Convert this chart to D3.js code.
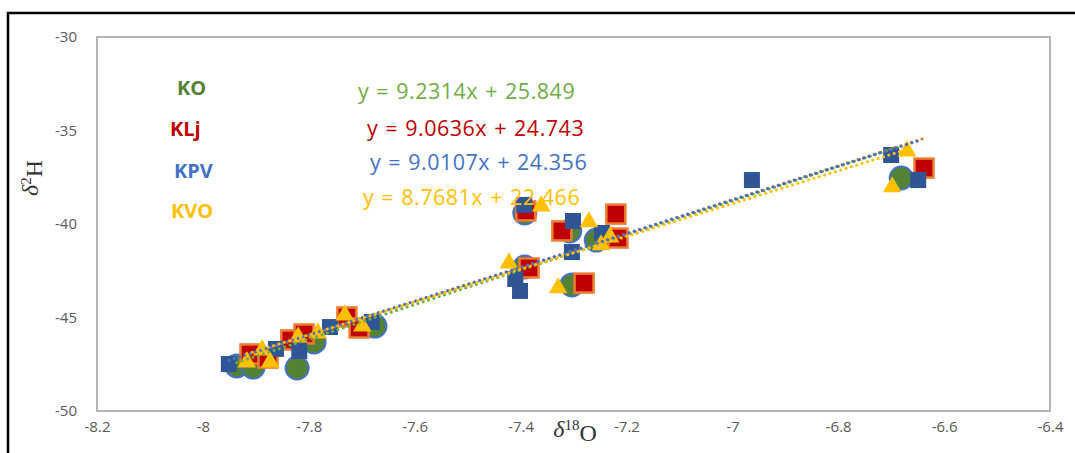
<!DOCTYPE html>
<html>
<head>
<meta charset="utf-8">
<script src="https://cdn.jsdelivr.net/npm/d3@7"></script>
<style>
  body { margin: 0; background: #fff; }
  svg { display: block; }
</style>
</head>
<body>
<div id="chart"></div>
<script>
// data
let seriesNames = ["KO", "KLj", "KPV", "KVO"];

let koX = [-7.936, -7.905, -7.822, -7.790, -7.675, -7.392, -7.392, -7.303, -7.307, -7.257, -6.681];
let koY = [-47.59, -47.65, -47.70, -46.31, -45.46, -39.41, -42.30, -43.26, -40.37, -40.86, -37.54];

let kljX = [-7.911, -7.877, -7.834, -7.809, -7.728, -7.705, -7.390, -7.384, -7.322, -7.280, -7.220, -7.216, -6.638];
let kljY = [-46.95, -47.17, -46.20, -45.88, -44.97, -45.56, -39.30, -42.35, -40.37, -43.16, -39.47, -40.75, -37.01];

let kpvX = [-7.951, -7.862, -7.818, -7.760, -7.681, -7.393, -7.410, -7.401, -7.301, -7.303, -7.246, -6.963, -6.700, -6.649];
let kpvY = [-47.49, -46.68, -46.79, -45.51, -45.24, -38.98, -42.94, -43.58, -39.84, -41.50, -40.48, -37.65, -36.31, -37.65];

let kvoX = [-7.917, -7.888, -7.873, -7.820, -7.783, -7.732, -7.699, -7.361, -7.422, -7.329, -7.271, -7.231, -7.248, -6.670, -6.698];
let kvoY = [-47.38, -46.74, -47.38, -46.04, -45.83, -44.87, -45.46, -39.04, -42.09, -43.42, -39.89, -40.70, -41.12, -36.10, -38.02];

// trendline equations shown on the chart
let slopes = [9.2314, 9.0636, 9.0107, 8.7681];
let intercepts = [25.849, 24.743, 24.356, 22.466];
let equations = ["y = 9.2314x + 25.849", "y = 9.0636x + 24.743", "y = 9.0107x + 24.356", "y = 8.7681x + 22.466"];

let xTicks = [-8.2, -8, -7.8, -7.6, -7.4, -7.2, -7, -6.8, -6.6, -6.4];
let yTicks = [-50, -45, -40, -35, -30];

let width = 1075, height = 453;
let margin = ({top: 37, right: 25, bottom: 42, left: 97});

let pointColors = ["#548235", "#c00000", "#2f5597", "#ffc000"];
let lineColors = ["#70ad47", "#ed7d31", "#4472c4", "#ffc000"];
let labelColors = ["#548235", "#c00000", "#4472c4", "#ffc000"];
let eqColors = ["#70ad47", "#c00000", "#4472c4", "#ffc000"];

let series = [
  {name: seriesNames[0], xs: koX, ys: koY},
  {name: seriesNames[1], xs: kljX, ys: kljY},
  {name: seriesNames[2], xs: kpvX, ys: kpvY},
  {name: seriesNames[3], xs: kvoX, ys: kvoY}
].map((s, i) => ({...s, i, pts: s.xs.map((x, j) => ({x, y: s.ys[j]}))}));

let x = d3.scaleLinear().domain([-8.2, -6.4]).range([margin.left, width - margin.right]);
let y = d3.scaleLinear().domain([-50, -30]).range([height - margin.bottom, margin.top]);

let svg = d3.select("#chart").append("svg")
  .attr("width", width).attr("height", height)
  .attr("viewBox", [0, 0, width, height]);

// outer frame
svg.append("rect")
  .attr("x", 8).attr("y", 13).attr("width", width + 20).attr("height", height + 20)
  .attr("fill", "none").attr("stroke", "#000").attr("stroke-width", 2.5);

// plot area border
svg.append("rect")
  .attr("x", x(-8.2)).attr("y", y(-30))
  .attr("width", x(-6.4) - x(-8.2)).attr("height", y(-50) - y(-30))
  .attr("fill", "none").attr("stroke", "#b4b4b4").attr("stroke-width", 2);

let xAxis = g => g
  .attr("transform", `translate(0,${y(-50)})`)
  .call(d3.axisBottom(x).tickValues(xTicks).tickSize(0).tickPadding(10).tickFormat(d => String(d)))
  .call(g => g.select(".domain").remove());

let yAxis = g => g
  .attr("transform", `translate(${x(-8.2)},0)`)
  .call(d3.axisLeft(y).tickValues(yTicks).tickSize(0).tickPadding(20).tickFormat(d => String(d)))
  .call(g => g.select(".domain").remove());

svg.append("g").attr("class", "x-axis").call(xAxis);
svg.append("g").attr("class", "y-axis").call(yAxis);
svg.selectAll(".x-axis text, .y-axis text")
  .attr("fill", "#595959")
  .style("font-family", "'Open Sans', sans-serif")
  .style("font-size", "15px");

// markers
let marks = svg.append("g").attr("class", "marks");

marks.append("g").selectAll("circle")
  .data(series[0].pts).join("circle")
  .attr("cx", d => x(d.x)).attr("cy", d => y(d.y)).attr("r", 11.5)
  .attr("fill", pointColors[0]).attr("stroke", "#4472c4").attr("stroke-width", 2);

marks.append("g").selectAll("rect")
  .data(series[1].pts).join("rect")
  .attr("x", d => x(d.x) - 9.5).attr("y", d => y(d.y) - 9.5)
  .attr("width", 19).attr("height", 19)
  .attr("fill", pointColors[1]).attr("stroke", "#ed7d31").attr("stroke-width", 2.5);

marks.append("g").selectAll("rect")
  .data(series[2].pts).join("rect")
  .attr("x", d => x(d.x) - 8).attr("y", d => y(d.y) - 8)
  .attr("width", 16).attr("height", 16)
  .attr("fill", pointColors[2]);

let tri = d3.symbol().type(d3.symbolTriangle).size(150);
marks.append("g").selectAll("path")
  .data(series[3].pts).join("path")
  .attr("transform", d => `translate(${x(d.x)},${y(d.y)})`)
  .attr("d", tri)
  .attr("fill", pointColors[3]);

// trendlines, drawn over the data extent of each series
let line = d3.line().x(d => x(d.x)).y(d => y(d.y));
svg.append("g").attr("class", "trends").selectAll("path")
  .data(series).join("path")
  .attr("d", s => {
    let [x0, x1] = d3.extent(s.xs);
    return line([x0, x1].map(v => ({x: v, y: slopes[s.i] * v + intercepts[s.i]})));
  })
  .attr("fill", "none")
  .attr("stroke", s => lineColors[s.i])
  .attr("stroke-width", 3)
  .attr("stroke-linecap", "round")
  .attr("stroke-dasharray", "0.1 5.5");

// series labels
let labelPos = [[177, 88], [170, 129], [174, 171], [171, 211]];
svg.append("g").selectAll("text")
  .data(seriesNames).join("text")
  .attr("x", (d, i) => labelPos[i][0]).attr("y", (d, i) => labelPos[i][1])
  .attr("dy", "0.35em")
  .attr("fill", (d, i) => labelColors[i])
  .style("font-family", "'Open Sans', sans-serif")
  .style("font-weight", "bold")
  .style("font-size", "20px")
  .text(d => d);

// equations
let eqPos = [[358, 91], [367, 128], [370, 162], [363, 197]];
svg.append("g").selectAll("text")
  .data(equations).join("text")
  .attr("x", (d, i) => eqPos[i][0]).attr("y", (d, i) => eqPos[i][1])
  .attr("dy", "0.35em")
  .attr("fill", (d, i) => eqColors[i])
  .style("font-family", "'Open Sans', sans-serif")
  .style("font-size", "21.5px")
  .style("letter-spacing", "0.5px")
  .style("word-spacing", "1px")
  .text(d => d);

// axis titles
let yTitle = svg.append("text")
  .attr("transform", "translate(38,178) rotate(-90)")
  .attr("text-anchor", "middle")
  .style("font-family", "'Liberation Serif', serif")
  .style("font-size", "24px")
  .attr("fill", "#333");
yTitle.append("tspan").style("font-style", "italic").text("δ");
yTitle.append("tspan").attr("dy", "-0.45em").style("font-size", "15px").text("2");
yTitle.append("tspan").attr("dy", "0.45em").text("H");

let xTitle = svg.append("text")
  .attr("x", 575).attr("y", 437)
  .attr("text-anchor", "middle")
  .style("font-family", "'Liberation Serif', serif")
  .style("font-size", "24px")
  .attr("fill", "#333");
xTitle.append("tspan").style("font-style", "italic").text("δ");
xTitle.append("tspan").attr("dy", "-0.45em").style("font-size", "15px").text("18");
xTitle.append("tspan").attr("dy", "0.45em").text("O");
</script>
</body>
</html>
